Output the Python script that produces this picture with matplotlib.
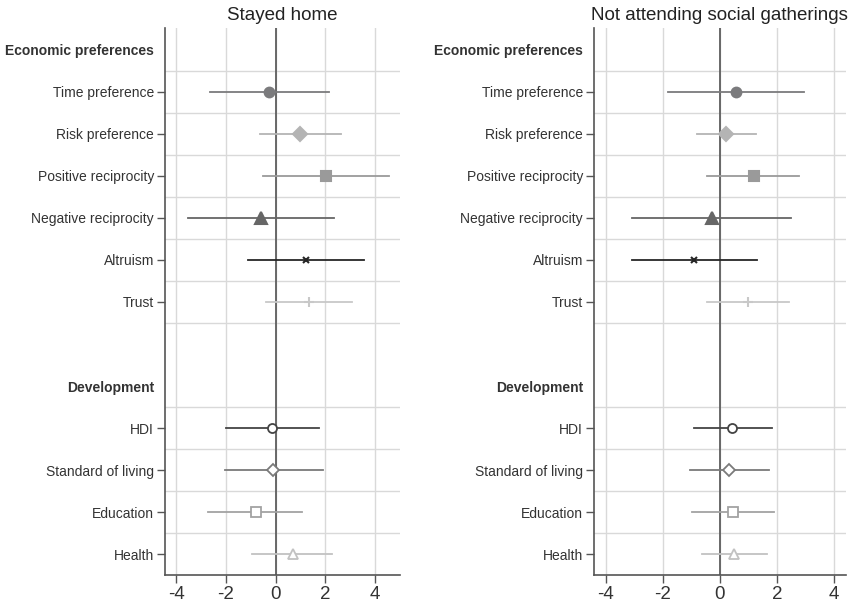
import numpy as np
import matplotlib
matplotlib.use("Agg")
import matplotlib.pyplot as plt

plt.rcParams['font.family'] = ['Liberation Sans', 'DejaVu Sans']

# row labels (headers are bold, no estimate)
labels = ["Economic preferences", "Time preference", "Risk preference",
          "Positive reciprocity", "Negative reciprocity", "Altruism", "Trust",
          "", "Development", "HDI", "Standard of living", "Education", "Health"]
headers = [0, 8]
rows = [1, 2, 3, 4, 5, 6, 9, 10, 11, 12]

# Stayed home
home_est = [-0.26, 1.0, 2.04, -0.6, 1.23, 1.36, -0.14, -0.09, -0.81, 0.68]
home_lo = [-2.64, -0.62, -0.49, -3.54, -1.1, -0.4, -2.0, -2.04, -2.71, -0.94]
home_hi = [2.14, 2.64, 4.55, 2.35, 3.54, 3.08, 1.73, 1.89, 1.08, 2.29]

# Not attending social gatherings
soc_est = [0.56, 0.21, 1.18, -0.28, -0.91, 0.99, 0.44, 0.33, 0.46, 0.5]
soc_lo = [-1.8, -0.8, -0.44, -3.07, -3.07, -0.44, -0.91, -1.06, -0.96, -0.63]
soc_hi = [2.94, 1.25, 2.78, 2.5, 1.28, 2.4, 1.81, 1.7, 1.89, 1.63]

colors = ["#7b7b7d", "#b4b4b4", "#9a9a9a", "#666666", "#262626", "#c8c8c8",
          "#444444", "#7a7a7a", "#a2a2a2", "#c2c2c2"]
markers = ["o", "D", "s", "^", "x", "+", "o", "D", "s", "^"]
filled = [True, True, True, True, True, True, False, False, False, False]
msizes = [7, 7.5, 7, 8, 5, 7, 6.5, 6.5, 6.5, 7]

fig = plt.figure(figsize=(8.56, 6.08), dpi=100)
ax1 = fig.add_axes([0.193, 0.054, 0.274, 0.900])
ax2 = fig.add_axes([0.694, 0.054, 0.294, 0.900])

def panel(ax, est, lo, hi, title, xlim):
    ax.set_xlim(*xlim)
    ax.set_ylim(12.5, -0.52)
    ax.set_xticks([-4, -2, 0, 2, 4])
    ax.set_xticklabels(["-4", "-2", "0", "2", "4"], fontsize=13.5, color="#333333")
    ax.set_yticks(range(len(labels)))
    ax.set_yticklabels(labels, fontsize=10, color="#333333")
    ax.set_yticks([0.5, 1.5, 2.5, 3.5, 4.5, 5.5, 6.5, 8.5, 9.5, 10.5, 11.5], minor=True)
    ax.tick_params(axis='y', which='minor', length=0)
    ax.tick_params(axis='both', which='major', length=6, width=1, color="#555555", pad=2)
    ax.grid(True, axis='x', which='major', color="#d9d9d9", lw=1)
    ax.grid(True, axis='y', which='minor', color="#d9d9d9", lw=1)
    ax.set_axisbelow(True)
    for i, t in enumerate(ax.yaxis.get_major_ticks()):
        if i in headers or labels[i] == "":
            t.tick1line.set_visible(False)
    for i in headers:
        ax.get_yticklabels()[i].set_fontweight("bold")
    for s in ["top", "right"]:
        ax.spines[s].set_visible(False)
    for s in ["left", "bottom"]:
        ax.spines[s].set_color("#555555")
        ax.spines[s].set_linewidth(1.2)
    ax.axvline(0, color="#5e5e5e", lw=1.3, zorder=2)
    for k, y in enumerate(rows):
        c = colors[k]
        ax.plot([lo[k], hi[k]], [y, y], color=c, lw=1.3, zorder=3)
        if filled[k]:
            ax.plot(est[k], y, marker=markers[k], color=c, ms=msizes[k],
                    mew=1.5, zorder=4)
        else:
            ax.plot(est[k], y, marker=markers[k], mfc="white", mec=c,
                    ms=msizes[k], mew=1.3, zorder=4)
    ax.set_title(title, fontsize=13.5, color="#222222", pad=6)

panel(ax1, home_est, home_lo, home_hi, "Stayed home", (-4.45, 5.0))
panel(ax2, soc_est, soc_lo, soc_hi, "Not attending social gatherings", (-4.4, 4.4))

fig.savefig("out.png", dpi=100)
